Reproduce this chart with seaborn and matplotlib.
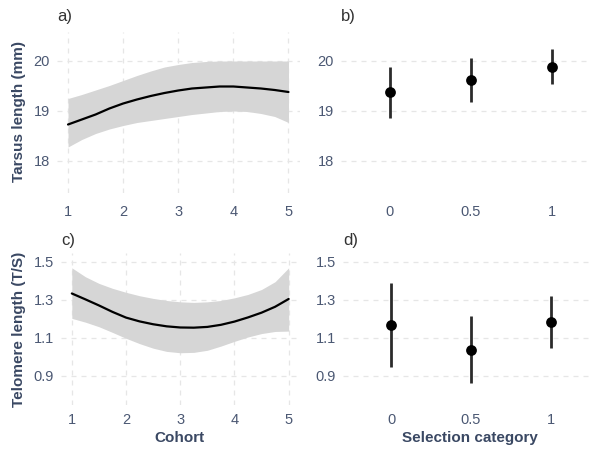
import matplotlib
matplotlib.use("Agg")
import matplotlib.pyplot as plt
import seaborn as sns
import pandas as pd
import numpy as np

# ---- data ----
cohort = [1, 1.25, 1.5, 1.75, 2, 2.25, 2.5, 2.75, 3, 3.25, 3.5, 3.75, 4, 4.25, 4.5, 4.75, 5]
tarsus_fit = [18.73, 18.83, 18.93, 19.05, 19.15, 19.23, 19.30, 19.36, 19.41, 19.45, 19.47, 19.49,
              19.49, 19.47, 19.45, 19.42, 19.38]
tarsus_hi = [19.25, 19.33, 19.42, 19.51, 19.61, 19.71, 19.80, 19.88, 19.93, 19.97, 19.99, 20.00,
             20.00, 20.00, 20.00, 20.00, 20.00]
tarsus_lo = [18.28, 18.43, 18.55, 18.64, 18.71, 18.77, 18.81, 18.85, 18.89, 18.93, 18.96, 18.99,
             19.00, 18.99, 18.95, 18.89, 18.77]

telo_fit = [1.333, 1.302, 1.270, 1.236, 1.206, 1.186, 1.171, 1.160, 1.154, 1.153, 1.157, 1.168,
            1.185, 1.207, 1.232, 1.263, 1.304]
telo_hi = [1.468, 1.421, 1.386, 1.360, 1.339, 1.321, 1.307, 1.296, 1.289, 1.286, 1.289, 1.296,
           1.310, 1.328, 1.354, 1.395, 1.468]
telo_lo = [1.202, 1.182, 1.158, 1.128, 1.097, 1.069, 1.045, 1.028, 1.021, 1.023, 1.034, 1.056,
           1.081, 1.104, 1.122, 1.133, 1.135]

sel_cat = ["0", "0.5", "1"]
sel_tarsus = [19.37, 19.62, 19.88]
sel_tarsus_lo = [18.86, 19.18, 19.54]
sel_tarsus_hi = [19.88, 20.06, 20.24]
sel_telo = [1.165, 1.038, 1.182]
sel_telo_lo = [0.947, 0.860, 1.046]
sel_telo_hi = [1.386, 1.217, 1.318]

tarsus_ticks = [18, 19, 20]
telo_ticks = [0.9, 1.1, 1.3, 1.5]
cohort_ticks = [1, 2, 3, 4, 5]

# ---- style ----
sns.set_theme(style="white")
plt.rcParams['font.family'] = ['Liberation Sans', 'DejaVu Sans']
TICK_C = '#4B5873'
TITLE_C = '#3A4863'
GRID_C = '#E6E6E6'

W, H = 590, 450
fig = plt.figure(figsize=(W / 100, H / 100), dpi=100)


def add_ax(left, right, top, bottom):
    return fig.add_axes([left / W, 1 - bottom / H, (right - left) / W, (bottom - top) / H])


ax_a = add_ax(57, 299.5, 32, 193)
ax_b = add_ax(341, 601, 32, 193)
ax_c = add_ax(61, 299.5, 253, 405)
ax_d = add_ax(343, 599, 253, 405)


def style(ax, vgrid, xpad):
    for s in ax.spines.values():
        s.set_visible(False)
    ax.tick_params(length=0, labelsize=10.5, labelcolor=TICK_C, pad=5)
    ax.tick_params(axis='x', pad=xpad)
    ax.grid(axis='y', color=GRID_C, linestyle=(0, (4, 4)), linewidth=0.9)
    if vgrid:
        ax.grid(axis='x', color=GRID_C, linestyle=(0, (4, 4)), linewidth=0.9)
    else:
        ax.grid(axis='x', visible=False)
    ax.set_axisbelow(True)
    ax.set_xlabel("")
    ax.set_ylabel("")


# panel a
df_a = pd.DataFrame({"cohort": cohort, "fit": tarsus_fit, "lo": tarsus_lo, "hi": tarsus_hi})
ax_a.fill_between(df_a["cohort"], df_a["lo"], df_a["hi"], color='#D6D6D6', linewidth=0)
sns.lineplot(data=df_a, x="cohort", y="fit", ax=ax_a, color='black', linewidth=1.6)
ax_a.set_xlim(0.8, 5.2)
ax_a.set_ylim(17.36, 20.58)
ax_a.set_xticks(cohort_ticks)
ax_a.set_yticks(tarsus_ticks)
style(ax_a, True, 8.5)

# panel c
df_c = pd.DataFrame({"cohort": cohort, "fit": telo_fit, "lo": telo_lo, "hi": telo_hi})
ax_c.fill_between(df_c["cohort"], df_c["lo"], df_c["hi"], color='#D6D6D6', linewidth=0)
sns.lineplot(data=df_c, x="cohort", y="fit", ax=ax_c, color='black', linewidth=1.6)
ax_c.set_xlim(0.8, 5.2)
ax_c.set_ylim(0.746, 1.546)
ax_c.set_xticks(cohort_ticks)
ax_c.set_yticks(telo_ticks)
ax_c.set_yticklabels([f"{t:.1f}" for t in telo_ticks])
style(ax_c, True, 5.5)


def point_panel(ax, vals, lo, hi, ylim, ticks, fmt, xpad):
    df = pd.DataFrame({"cat": sel_cat, "val": vals, "lo": lo, "hi": hi})
    ax.vlines(x=np.arange(len(df)), ymin=df["lo"], ymax=df["hi"], color='#2B2B2B', linewidth=2.0, zorder=2)
    sns.scatterplot(data=df, x="cat", y="val", ax=ax, color='black', s=60, edgecolor='black', linewidth=0, zorder=3)
    ax.set_xlim(-0.6, 2.6)
    ax.set_ylim(*ylim)
    ax.set_yticks(ticks)
    ax.set_yticklabels([fmt(t) for t in ticks])
    style(ax, False, xpad)


point_panel(ax_b, sel_tarsus, sel_tarsus_lo, sel_tarsus_hi, (17.36, 20.58), tarsus_ticks, lambda t: f"{t:d}", 8.5)
point_panel(ax_d, sel_telo, sel_telo_lo, sel_telo_hi, (0.746, 1.546), telo_ticks, lambda t: f"{t:.1f}", 5.5)

# panel labels
for txt, x, y in [("a)", 57, 16), ("b)", 341, 16), ("c)", 61, 240), ("d)", 343, 240)]:
    fig.text(x / W, 1 - y / H, txt, fontsize=12, color='#333333', ha='left', va='center')

# axis titles
fig.text(19 / W, 1 - 112 / H, "Tarsus length (mm)", rotation=90, fontsize=11, fontweight='bold',
         color=TITLE_C, ha='center', va='center')
fig.text(19 / W, 1 - 329 / H, "Telomere length (T/S)", rotation=90, fontsize=11, fontweight='bold',
         color=TITLE_C, ha='center', va='center')
fig.text(179 / W, 1 - 438 / H, "Cohort", fontsize=11, fontweight='bold', color=TITLE_C, ha='center', va='center')
fig.text(470 / W, 1 - 438 / H, "Selection category", fontsize=11, fontweight='bold', color=TITLE_C,
         ha='center', va='center')

fig.savefig("out.png", dpi=100, facecolor='white')
